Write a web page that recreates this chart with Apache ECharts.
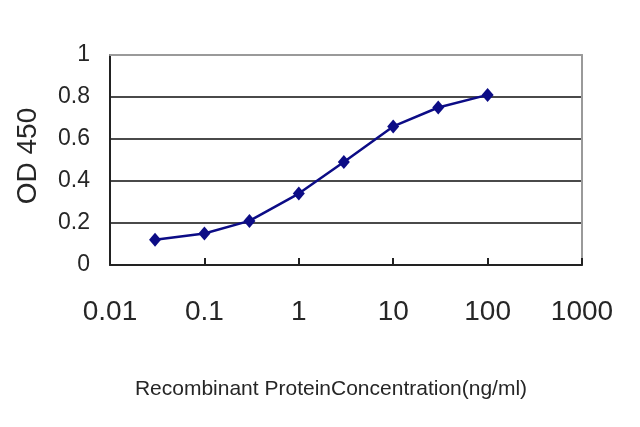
<!DOCTYPE html>
<html>
<head>
<meta charset="utf-8">
<script src="https://cdn.jsdelivr.net/npm/echarts@6/dist/echarts.min.js"></script>
<style>
html,body{margin:0;padding:0;background:#fff;}
#chart{width:640px;height:427px;}
</style>
</head>
<body>
<div id="chart"></div>
<script>
// Data
var concentrations = [0.03, 0.1, 0.3, 1, 3, 10, 30, 100];
var odValues = [0.12, 0.15, 0.21, 0.34, 0.49, 0.66, 0.75, 0.81];
var xTickLabels = ['0.01', '0.1', '1', '10', '100', '1000'];
var yTickLabels = ['0', '0.2', '0.4', '0.6', '0.8', '1'];
var xTitle = 'Recombinant ProteinConcentration(ng/ml)';
var yTitle = 'OD 450';

var seriesData = concentrations.map(function (c, i) { return [c, odValues[i]]; });

var sans = "'Liberation Sans', Arial, sans-serif";
var chart = echarts.init(document.getElementById('chart'), null, {renderer: 'canvas'});
chart.setOption({
  backgroundColor: '#ffffff',
  animation: false,
  grid: {left: 110, right: 58, top: 55, bottom: 162, containLabel: false},
  xAxis: [{
    type: 'log',
    logBase: 10,
    min: 0.01,
    max: 1000,
    position: 'bottom',
    axisLine: {show: true, onZero: false, lineStyle: {color: '#222', width: 2}},
    axisTick: {show: true, inside: true, length: 7, lineStyle: {color: '#222', width: 2}},
    axisLabel: {
      show: true, margin: 33, color: '#262626', fontSize: 28, fontFamily: sans,
      formatter: function (v) {
        var e = Math.round(Math.log10(v)) + 2;
        return xTickLabels[e] !== undefined ? xTickLabels[e] : '';
      }
    },
    splitLine: {show: false},
    minorTick: {show: false},
    name: xTitle,
    nameLocation: 'middle',
    nameGap: 114,
    nameTextStyle: {fontSize: 21, color: '#262626', fontFamily: sans, padding: [0, 30, 0, 0]}
  }, {
    type: 'log', logBase: 10, min: 0.01, max: 1000, position: 'top',
    axisLine: {show: true, onZero: false, lineStyle: {color: '#9a9a9a', width: 2}},
    axisTick: {show: false}, axisLabel: {show: false}, splitLine: {show: false}
  }],
  yAxis: [{
    type: 'value',
    min: 0,
    max: 1,
    interval: 0.2,
    position: 'left',
    axisLine: {show: true, onZero: false, lineStyle: {color: '#222', width: 2}},
    axisTick: {show: false},
    axisLabel: {
      margin: 20, color: '#262626', fontSize: 23, fontFamily: sans,
      formatter: function (v) { return yTickLabels[Math.round(v * 5)]; }
    },
    splitLine: {show: true, showMinLine: false, showMaxLine: false, lineStyle: {color: '#4a4a4a', width: 2}},
    name: yTitle,
    nameLocation: 'middle',
    nameGap: 68,
    nameTextStyle: {fontSize: 28, color: '#262626', fontFamily: sans, padding: [0, 0, 0, 8]}
  }, {
    type: 'value', min: 0, max: 1, position: 'right',
    axisLine: {show: true, onZero: false, lineStyle: {color: '#9a9a9a', width: 2}},
    axisTick: {show: false}, axisLabel: {show: false}, splitLine: {show: false}
  }],
  series: [{
    type: 'line',
    xAxisIndex: 0,
    yAxisIndex: 0,
    data: seriesData,
    symbol: 'diamond',
    symbolSize: [12, 14],
    lineStyle: {color: '#0c0c86', width: 2.5},
    itemStyle: {color: '#0c0c86'},
    z: 5
  }]
});
</script>
</body>
</html>
